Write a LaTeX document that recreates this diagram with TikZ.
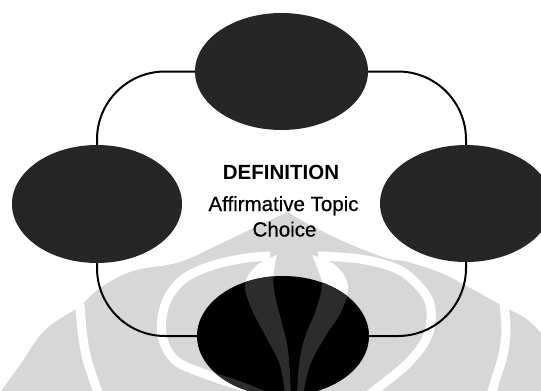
\documentclass[tikz,border=0pt]{standalone}
\usepackage{fontspec}
\setmainfont{Liberation Sans}
\newfontfamily\scanfont[FakeBold=0.6]{Liberation Sans}
\usetikzlibrary{shapes.geometric}
\definecolor{wmgray}{HTML}{D7D7D7}
\definecolor{ellfill}{HTML}{262626}
\definecolor{petal}{HTML}{2C2C2C}
\begin{document}
\begin{tikzpicture}[x=1pt,y=-1pt,
  blob/.style={ellipse, fill=ellfill, draw=none, inner sep=0pt, outer sep=0pt},
  link/.style={line width=2pt, black, rounded corners=68pt},
  txt/.style={font=\scanfont\fontsize{20.5}{24}\selectfont, anchor=base, inner sep=0pt},
  band/.style={line width=9pt},
  lflame/.style={insert path={plot[smooth,tension=0.6] coordinates{(277,255) (256,266) (245,285) (252,310) (266,337) (280,365) (285,396)} -- plot[smooth,tension=0.6] coordinates{(291,396) (288,350) (281,320) (274,290) (274,270) (277,255)} -- cycle}},
  rflame/.style={insert path={plot[smooth,tension=0.6] coordinates{(312,255) (335,265) (348,285) (342,310) (325,337) (310,365) (303,396)} -- plot[smooth,tension=0.6] coordinates{(297,396) (299,365) (305,337) (316,310) (322,285) (318,270) (312,255)} -- cycle}},
  wtwoleft/.style={insert path={plot[smooth,tension=0.6] coordinates{(270,256) (240,259) (205,268) (180,282) (165,305) (162,335) (175,360) (205,374) (240,386) (270,398)}}},
  wtworight/.style={insert path={plot[smooth,tension=0.6] coordinates{(318,256) (360,259) (395,268) (415,282) (430,304) (428,335) (408,363) (374,391) (365,398)}}}
]
\useasboundingbox (0,0) rectangle (541,391);
\clip (0,0) rectangle (541,391);
\fill[white] (0,0) rectangle (541,391);

% watermark
\fill[wmgray] plot[smooth,tension=0.6] coordinates{(-4,398) (20,365) (45,330) (80,307)}
  -- plot[smooth,tension=0.6] coordinates{(80,307) (100,288) (133,271) (180,262) (222,243) (262,224) (288,212)}
  -- plot[smooth,tension=0.6] coordinates{(288,212) (308,224) (347,243) (386,258) (408,262) (441,273) (474,290) (504,307)}
  -- plot[smooth,tension=0.6] coordinates{(504,307) (525,318) (541,333) (550,345)}
  -- (550,398) -- cycle;
\draw[white,band] plot[smooth,tension=0.6] coordinates{(80,304) (82,330) (86,355) (92,375) (100,398)};
\draw[white,band] plot[smooth,tension=0.6] coordinates{(504,304) (506,330) (503,355) (497,375) (490,398)};
\draw[white,band,wtwoleft];
\draw[white,band,wtworight];
\fill[white,lflame];
\fill[white,rflame];

% ellipses
\node[blob, minimum width=173pt, minimum height=117pt] (top) at (281.5,71.5) {};
\node[blob, minimum width=170pt, minimum height=118pt] (left) at (97,204) {};
\node[blob, minimum width=172pt, minimum height=117pt] (right) at (466,203.5) {};
\node[blob, fill=black, minimum width=172pt, minimum height=120pt] (bottom) at (283,336) {};
\begin{scope}
  \clip (bottom.center) ellipse [x radius=86pt, y radius=60pt];
  \fill[petal,lflame];
  \fill[petal,rflame];
  \draw[petal,band,wtwoleft];
\end{scope}

% connectors
\draw[link] (top.west) -| (left.north);
\draw[link] (left.south) |- (bottom.west);
\draw[link] (top.east) -| (right.north);
\draw[link] (right.south) |- (bottom.east);

% centre text
\node[txt, font=\fontsize{20.5}{24}\selectfont\bfseries] (t1) at (281,179) {DEFINITION};
\node[txt] (t2) at (283.5,211) {Affirmative Topic};
\node[txt] (t3) at (284.5,236.5) {Choice};
\end{tikzpicture}
\end{document}
